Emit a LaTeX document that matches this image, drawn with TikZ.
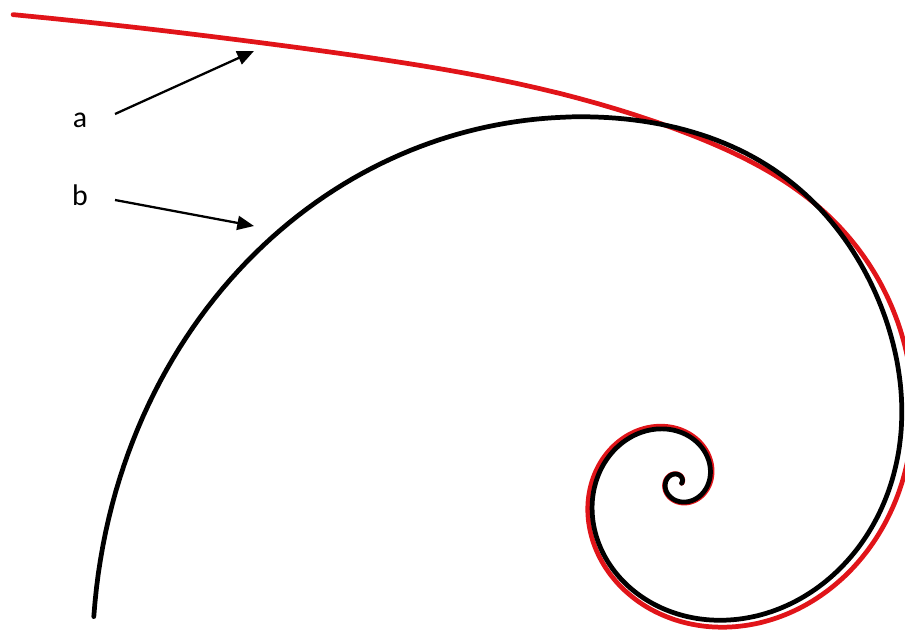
\documentclass[tikz,border=0pt]{standalone}
\usepackage{fontspec}
\setmainfont{Carlito}
\usetikzlibrary{arrows.meta}
\definecolor{spiralred}{RGB}{225,20,25}
\begin{document}
\begin{tikzpicture}[x=0.02cm,y=0.02cm,
  curve/.style={line width=2.7pt,line cap=round},
  pointer/.style={-{Triangle[length=9.5pt,width=8pt]},line width=1.3pt},
  lbl/.style={inner sep=0pt,font=\fontsize{17}{20}\selectfont},
  declare function={
    rz(\t)=378.6*exp(0.0053468*(\t-467));
    rb(\t)=rz(\t)*(1+0.035*exp(-(((\t-432)/28)^2)));
    rr(\t)=rz(\t)*(1.05+0.97*exp((\t-510)/16)-0.055*exp(-(((\t-452)/30)^2)));
  }]
  \useasboundingbox (0,0) rectangle (905,-631);
  \draw[curve,spiralred] plot[domain=-380:504.9,samples=700,variable=\t]
    ({677.7+rr(\t)*cos(\t)},{-481.8+rr(\t)*sin(\t)});
  \draw[curve,black] plot[domain=-380:553,samples=700,variable=\t]
    ({677.7+rb(\t)*cos(\t)},{-481.8+rb(\t)*sin(\t)});
  \node[lbl] (a) at (80,-120) {a};
  \node[lbl] (b) at (80,-195.5) {b};
  \coordinate (atail) at (115,-114);
  \coordinate (atip) at (254,-51);
  \coordinate (btail) at (115,-200);
  \coordinate (btip) at (254,-226);
  \draw[pointer] (atail) -- (atip);
  \draw[pointer] (btail) -- (btip);
\end{tikzpicture}
\end{document}
